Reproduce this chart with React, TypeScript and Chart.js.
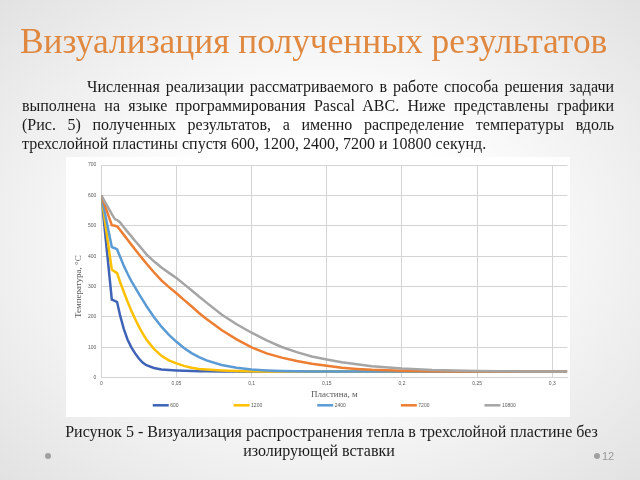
import React, { useEffect, useRef } from "react";
import { Chart, registerables } from "chart.js";

Chart.register(...registerables);

// Plate coordinate, m
const positions = [0, 0.007, 0.009, 0.0105, 0.0125, 0.015, 0.0175, 0.02, 0.0225, 0.025, 0.0275, 0.03, 0.035, 0.04, 0.045, 0.05, 0.055, 0.06, 0.065, 0.07, 0.08, 0.09, 0.1, 0.11, 0.12, 0.13, 0.14, 0.15, 0.16, 0.17, 0.18, 0.2, 0.22, 0.25, 0.28, 0.31];

// Temperature, °C, after 600 / 1200 / 2400 / 7200 / 10800 s
const temp600 = [600, 257, 253, 249, 205, 160, 125, 100, 80, 63, 50, 41, 32, 27, 25, 23.5, 22.5, 22, 21.5, 21, 20.5, 20.3, 20.2, 20, 20, 20, 20, 20, 20, 20, 20, 20, 20, 20, 20, 20];
const temp1200 = [600, 355, 349, 344, 315, 282, 250, 220, 193, 168, 146, 126, 95, 72, 57, 47, 39, 33, 29, 27, 24, 22, 21, 20.5, 20.2, 20, 20, 20, 20, 20, 20, 20, 20, 20, 20, 20];
const temp2400 = [600, 430, 426, 422, 398, 368, 342, 318, 297, 276, 256, 236, 200, 168, 141, 118, 98, 81, 68, 57, 42, 33, 27, 24, 22, 21, 20.5, 20.2, 20, 20, 20, 20, 20, 20, 20, 20];
const temp7200 = [600, 502, 500, 498, 486, 470, 454, 438, 422, 406, 391, 376, 347, 320, 298, 278, 256, 235, 213, 193, 157, 126, 100, 80, 66, 55, 46, 39, 33, 29, 26, 23, 21.5, 20.5, 20, 20];
const temp10800 = [600, 538, 522, 519, 511, 495, 480, 465, 450, 436, 421, 406, 383, 363, 345, 328, 308, 288, 267, 247, 208, 176, 148, 123, 101, 84, 70, 60, 51, 44, 38, 30, 25, 22, 20.5, 20];

const seriesLabels = ["600", "1200", "2400", "7200", "10800"];
const seriesValues = [temp600, temp1200, temp2400, temp7200, temp10800];
const seriesColors = ["#3F63B6", "#FFC000", "#5B9BD5", "#ED7D31", "#A5A5A5"];

const xTitle = "Пластина, м";
const yTitle = "Температура, °С";
const xMin = 0;
const xMax = 0.31;
const xStep = 0.05;
const yMin = 0;
const yMax = 700;
const yStep = 100;

const titleText = "Визуализация полученных результатов";
const paragraphLines = [
  "Численная реализации рассматриваемого в работе способа решения задачи",
  "выполнена на языке программирования Pascal ABC. Ниже представлены графики",
  "(Рис. 5) полученных результатов, а именно распределение температуры вдоль",
  "трехслойной пластины спустя 600, 1200, 2400, 7200 и 10800 секунд.",
];
const captionLines = [
  "Рисунок 5 - Визуализация распространения тепла в трехслойной пластине без",
  "изолирующей вставки",
];
const slideNumber = "12";

const TEXT_GRAY = "#595959";
const GRID = "#D4D4D4";

const overlayPlugin = {
  id: "overlay",
  afterDraw(chart: any) {
    const { ctx, chartArea: a } = chart;
    ctx.save();
    ctx.font = "5px 'Liberation Sans', Arial, sans-serif";
    const lineLen = 16;
    const textGap = 1.5;
    const gap = 55;
    const widths = seriesLabels.map((l) => lineLen + textGap + ctx.measureText(l).width);
    const total = widths.reduce((s, w) => s + w, 0) + gap * (widths.length - 1);
    let x = (a.left + a.right) / 2 - total / 2;
    const y = a.bottom + 27.6;
    seriesLabels.forEach((l, i) => {
      ctx.strokeStyle = seriesColors[i];
      ctx.lineWidth = 2.5;
      ctx.beginPath();
      ctx.moveTo(x, y);
      ctx.lineTo(x + lineLen, y);
      ctx.stroke();
      ctx.fillStyle = TEXT_GRAY;
      ctx.textBaseline = "middle";
      ctx.textAlign = "left";
      ctx.fillText(l, x + lineLen + textGap, y);
      x += widths[i] + gap;
    });
    ctx.translate(a.left - 22.3, a.bottom - 91);
    ctx.rotate(-Math.PI / 2);
    ctx.font = "9px 'Liberation Serif', 'Times New Roman', serif";
    ctx.textAlign = "center";
    ctx.textBaseline = "middle";
    ctx.fillStyle = TEXT_GRAY;
    ctx.fillText(yTitle, 0, 0);
    ctx.restore();
  },
};

function fmtX(v: number) {
  const r = Math.round(v * 100) / 100;
  return String(r).replace(".", ",");
}

function TemperatureChart() {
  const ref = useRef<HTMLCanvasElement | null>(null);
  useEffect(() => {
    if (!ref.current) return;
    Chart.defaults.font.family = "'Liberation Sans', Arial, sans-serif";
    const datasets = seriesLabels
      .map((label, i) => ({
        label,
        data: positions.map((x, j) => ({ x, y: seriesValues[i][j] })),
        borderColor: seriesColors[i],
        backgroundColor: seriesColors[i],
        borderWidth: 2.5,
        pointRadius: 0,
        tension: 0,
        fill: false,
      }))
      .reverse();
    const chart = new Chart(ref.current, {
      type: "line",
      data: { datasets },
      plugins: [overlayPlugin],
      options: {
        animation: false,
        responsive: false,
        maintainAspectRatio: false,
        layout: { padding: { top: 7.3, right: 2.7, bottom: 16.6, left: 0 } },
        plugins: { legend: { display: false }, tooltip: { enabled: false } },
        scales: {
          x: {
            type: "linear",
            min: xMin,
            max: xMax,
            grid: { color: GRID, lineWidth: 1, drawTicks: false },
            border: { color: GRID },
            ticks: {
              stepSize: xStep,
              includeBounds: false,
              padding: 3,
              color: TEXT_GRAY,
              font: { size: 5 },
              maxRotation: 0,
              callback: (v: any) => fmtX(Number(v)),
            },
            title: {
              display: true,
              text: xTitle,
              color: TEXT_GRAY,
              font: { family: "'Liberation Serif', 'Times New Roman', serif", size: 9 },
              padding: { top: 0, bottom: 0 },
            },
            afterFit: (s: any) => {
              s.height = 22.7;
            },
          },
          y: {
            min: yMin,
            max: yMax,
            grid: { color: GRID, lineWidth: 1, drawTicks: false },
            border: { color: GRID },
            ticks: {
              stepSize: yStep,
              padding: 5,
              color: TEXT_GRAY,
              font: { size: 5 },
            },
            afterFit: (s: any) => {
              s.width = 35.3;
            },
          },
        },
      },
    });
    return () => chart.destroy();
  }, []);
  return <canvas ref={ref} width={504} height={260} style={{ width: 504, height: 260, display: "block" }} />;
}

export default function App() {
  const serif = "'Liberation Serif', 'Times New Roman', serif";
  return (
    <div
      style={{
        position: "fixed",
        left: 0,
        top: 0,
        width: 640,
        height: 480,
        overflow: "hidden",
        background: "radial-gradient(ellipse at 50% 50%, #ffffff 35%, #e2e2e2 100%)",
        fontFamily: serif,
      }}
    >
      <div
        style={{
          position: "absolute",
          left: 20,
          top: 24,
          fontSize: 35.4,
          lineHeight: 1,
          color: "#E0883F",
          whiteSpace: "nowrap",
        }}
      >
        {titleText}
      </div>
      {paragraphLines.map((line, i) => (
        <div
          key={i}
          style={{
            position: "absolute",
            left: i === 0 ? 87 : 22,
            width: i === 0 ? 527 : 592,
            top: 77 + i * 19,
            fontSize: 16,
            lineHeight: "19px",
            color: "#1a1a1a",
            whiteSpace: "nowrap",
            textAlign: i < 3 ? "justify" : "left",
            textAlignLast: i < 3 ? "justify" : "left",
          }}
        >
          {line}
        </div>
      ))}
      <div style={{ position: "absolute", left: 66, top: 157, width: 504, height: 260, background: "#ffffff" }}>
        <TemperatureChart />
      </div>
      <div
        style={{
          position: "absolute",
          left: 0,
          width: 663,
          top: 422,
          fontSize: 16,
          lineHeight: "19px",
          color: "#1a1a1a",
          textAlign: "center",
          whiteSpace: "nowrap",
        }}
      >
        {captionLines[0]}
      </div>
      <div
        style={{
          position: "absolute",
          left: 0,
          width: 638,
          top: 441,
          fontSize: 16,
          lineHeight: "19px",
          color: "#1a1a1a",
          textAlign: "center",
          whiteSpace: "nowrap",
        }}
      >
        {captionLines[1]}
      </div>
      <div style={{ position: "absolute", left: 45, top: 453, width: 6, height: 6, borderRadius: 3, background: "#a0a0a0" }} />
      <div style={{ position: "absolute", left: 594, top: 453, width: 6, height: 6, borderRadius: 3, background: "#a0a0a0" }} />
      <div
        style={{
          position: "absolute",
          left: 602,
          top: 449,
          fontSize: 11,
          lineHeight: "14px",
          color: "#9a9a9a",
          fontFamily: "'Liberation Sans', Arial, sans-serif",
        }}
      >
        {slideNumber}
      </div>
    </div>
  );
}
